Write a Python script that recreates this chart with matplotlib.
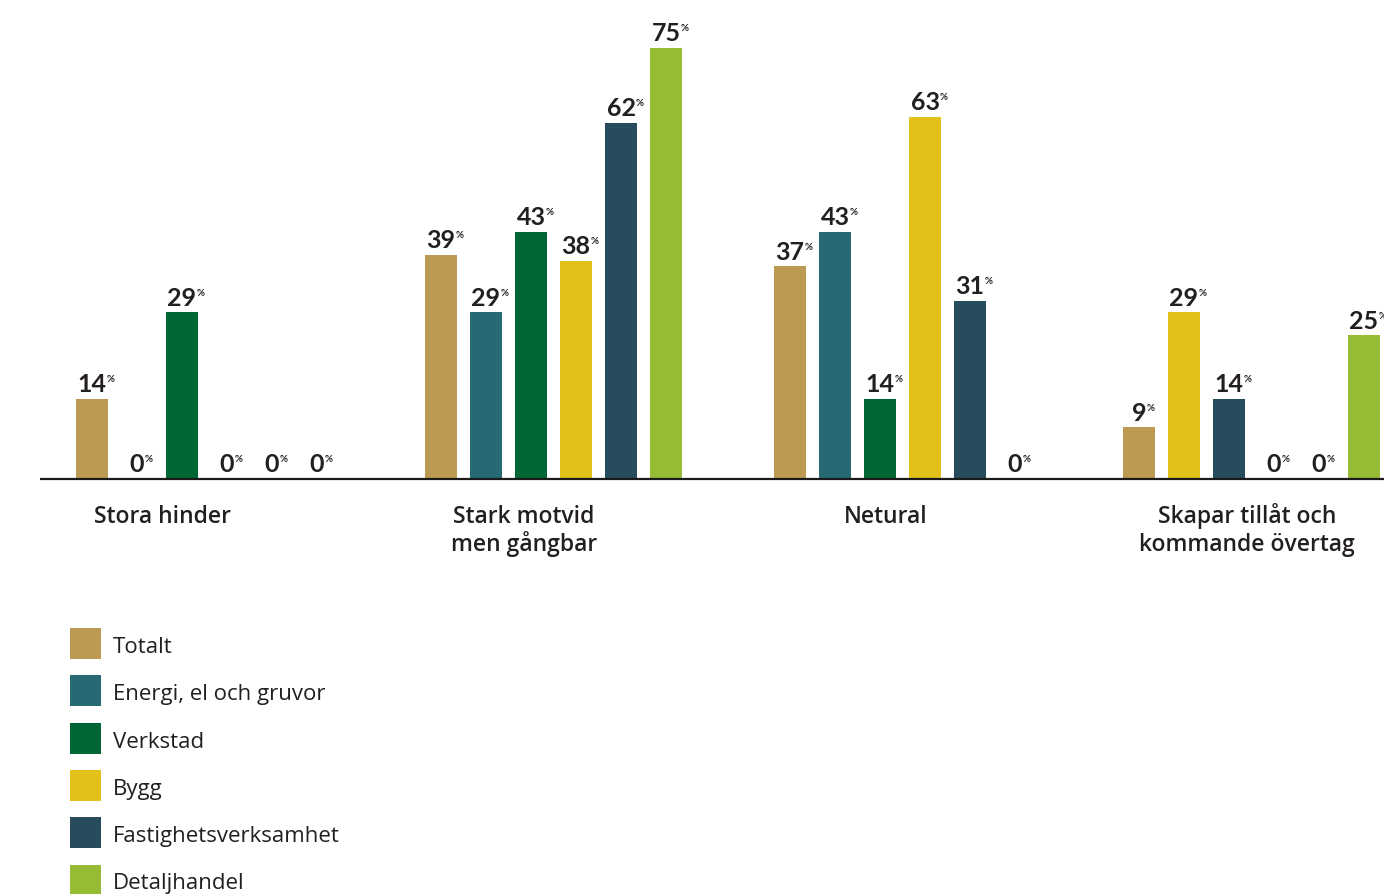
import matplotlib.pyplot as plt
from matplotlib.patches import Rectangle

plt.rcParams['font.family'] = ['Lato', 'DejaVu Sans']

groups = ["Stora hinder", "Stark motvid\nmen gångbar", "Netural",
          "Skapar tillåt och\nkommande övertag"]
series = ["Totalt", "Energi, el och gruvor", "Verkstad", "Bygg",
          "Fastighetsverksamhet", "Detaljhandel"]
colors = ["#BD9A52", "#276A73", "#006633", "#E2C11A", "#274D5C", "#96BC36"]

totalt = [14, 39, 37, 9]
energi = [0, 29, 43, 0]
verkstad = [29, 43, 14, 0]
bygg = [0, 38, 63, 29]
fastighet = [0, 62, 31, 14]
detaljhandel = [0, 75, 0, 25]
values = [totalt, energi, verkstad, bygg, fastighet, detaljhandel]

# order of the series within each group (last group is arranged differently)
slot_order = [
    [0, 1, 2, 3, 4, 5],
    [0, 1, 2, 3, 4, 5],
    [0, 1, 2, 3, 4, 5],
    [0, 3, 4, 1, 2, 5],
]

W, H = 1384, 895
px_per_pct = 5.747
base = 480  # baseline, pixels from top

fig = plt.figure(figsize=(W / 100, H / 100), dpi=100)
ax = fig.add_axes([0, 0, 1, 1])
ax.set_xlim(0, W)
ax.set_ylim(-(H - base) / px_per_pct, base / px_per_pct)
ax.set_axis_off()

first_x, group_step, slot_step, bar_w = 92, 349, 45, 32
txt = "#231f20"

for g in range(len(groups)):
    for slot, si in enumerate(slot_order[g]):
        x = first_x + group_step * g + slot_step * slot
        v = values[si][g]
        ax.bar(x, v, width=bar_w, color=colors[si], zorder=2)
        num = ax.annotate(str(v), xy=(x, v), xytext=(0, 5.5),
                          textcoords="offset points", ha="center",
                          va="baseline", fontsize=18, fontweight="bold",
                          color=txt, annotation_clip=False)
        ax.annotate("%", xy=(1, 1), xycoords=num, xytext=(0, -1.5),
                    textcoords="offset points", ha="left", va="top",
                    fontsize=7, fontweight="bold", color=txt)

ax.plot([40, W], [0, 0], color="#1a1a1a", lw=1.6, zorder=3,
        solid_capstyle="butt")

# category labels sit on their own evenly spaced positions;
# each label is split into lines so the first baselines line up
for g, name in enumerate(groups):
    for k, line in enumerate(name.split("\n")):
        ax.text(162 + 361.7 * g, -(523 + 28 * k - base) / px_per_pct, line,
                ha="center", va="baseline", fontsize=16.5,
                fontweight="semibold", color=txt,
                family=["Open Sans", "DejaVu Sans"])

# legend: colour squares with the series names beside them
sq, top0, pitch = 31, 629, 47.3
for i, (s, c) in enumerate(zip(series, colors)):
    top = top0 + pitch * i
    fig.add_artist(Rectangle((70 / W, 1 - (top + sq) / H), sq / W, sq / H,
                             transform=fig.transFigure, color=c, lw=0))
    fig.text(113 / W, 1 - (top + 24) / H, s, ha="left", va="baseline",
             fontsize=16, color=txt, family=["Open Sans", "DejaVu Sans"])

fig.savefig("out.png", dpi=100, facecolor="white")
